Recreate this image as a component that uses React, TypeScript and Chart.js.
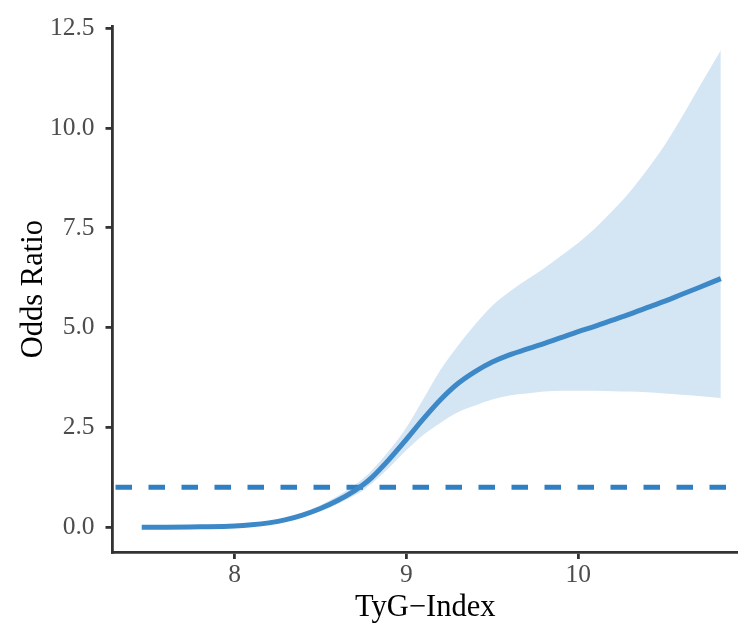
import React, { useEffect, useRef } from "react";
import { Chart, registerables } from "chart.js";

Chart.register(...registerables);

// TyG-Index values
const tyg = [7.46, 7.6, 7.8, 8.0, 8.1, 8.2, 8.3, 8.4, 8.5, 8.6, 8.7, 8.75, 8.8, 8.9, 9.0, 9.1, 9.2, 9.3, 9.4, 9.5, 9.6, 9.7, 9.8, 9.9, 10.0, 10.1, 10.2, 10.3, 10.4, 10.5, 10.6, 10.7, 10.83];
// Odds ratio estimate
const oddsRatio = [0.0, 0.0, 0.01, 0.03, 0.06, 0.11, 0.19, 0.31, 0.47, 0.67, 0.92, 1.07, 1.25, 1.7, 2.2, 2.72, 3.2, 3.6, 3.9, 4.14, 4.32, 4.46, 4.6, 4.75, 4.9, 5.04, 5.19, 5.34, 5.5, 5.66, 5.83, 6.0, 6.23];
// 95% CI upper
const upperCI = [0.0, 0.0, 0.01, 0.04, 0.07, 0.13, 0.23, 0.37, 0.55, 0.78, 1.06, 1.23, 1.43, 1.92, 2.5, 3.22, 3.95, 4.55, 5.08, 5.55, 5.9, 6.2, 6.48, 6.8, 7.12, 7.5, 7.93, 8.4, 8.95, 9.55, 10.25, 11.0, 11.95];
// 95% CI lower
const lowerCI = [0.0, 0.0, 0.01, 0.02, 0.05, 0.09, 0.16, 0.26, 0.4, 0.58, 0.8, 0.93, 1.1, 1.5, 1.93, 2.32, 2.62, 2.88, 3.05, 3.2, 3.3, 3.35, 3.4, 3.42, 3.42, 3.42, 3.41, 3.4, 3.38, 3.35, 3.32, 3.29, 3.24];

const refLineY = 1;
const xTicks = [8, 9, 10];
const yTicks = [0, 2.5, 5, 7.5, 10, 12.5];
const xMin = 7.29;
const xMax = 10.93;
const yMin = -0.62;
const yMax = 12.55;

export default function App() {
  const canvasRef = useRef<HTMLCanvasElement | null>(null);

  useEffect(() => {
    if (!canvasRef.current) return;
    const pts = (ys: number[]) => tyg.map((x, i) => ({ x, y: ys[i] }));
    const tickFont = { family: "'Liberation Serif', 'DejaVu Serif', serif", size: 25.5 };
    const titleFont = { family: "'Liberation Serif', 'DejaVu Serif', serif", size: 30.5 };
    const axisColor = "#333333";

    const chart = new Chart(canvasRef.current, {
      type: "line",
      data: {
        datasets: [
          {
            label: "OR",
            data: pts(oddsRatio),
            borderColor: "#3D89C8",
            borderWidth: 5,
            pointRadius: 0,
            cubicInterpolationMode: "monotone",
            fill: false,
          },
          {
            label: "ref",
            data: [
              { x: xMin, y: refLineY },
              { x: xMax, y: refLineY },
            ],
            borderColor: "#2F7FC2",
            borderWidth: 5,
            borderDash: [16.5, 16.5],
            borderDashOffset: -3,
            pointRadius: 0,
            fill: false,
          },
          {
            label: "upper",
            data: pts(upperCI),
            borderWidth: 0,
            borderColor: "rgba(0,0,0,0)",
            backgroundColor: "#D4E5F4",
            pointRadius: 0,
            cubicInterpolationMode: "monotone",
            fill: "+1",
          },
          {
            label: "lower",
            data: pts(lowerCI),
            borderWidth: 0,
            borderColor: "rgba(0,0,0,0)",
            pointRadius: 0,
            cubicInterpolationMode: "monotone",
            fill: false,
          },
        ],
      },
      options: {
        animation: false,
        responsive: true,
        maintainAspectRatio: false,
        layout: { padding: { top: 20, right: 0, left: 0, bottom: 0 } },
        plugins: {
          legend: { display: false },
          tooltip: { enabled: false },
        },
        scales: {
          x: {
            type: "linear",
            min: xMin,
            max: xMax,
            afterBuildTicks: (scale: any) => {
              scale.ticks = xTicks.map((v) => ({ value: v }));
            },
            afterFit: (scale: any) => {
              scale.height = 74;
            },
            ticks: {
              font: tickFont,
              color: "#4D4D4D",
              padding: 1,
              callback: (v: any) => String(v),
            },
            grid: {
              drawOnChartArea: false,
              drawTicks: true,
              tickLength: 7,
              color: axisColor,
              lineWidth: 2.8,
            },
            border: { display: true, color: axisColor, width: 2.8 },
            title: {
              display: true,
              text: "TyG\u2212Index",
              font: titleFont,
              color: "#000000",
              padding: { top: 0, bottom: 0 },
            },
          },
          y: {
            type: "linear",
            min: yMin,
            max: yMax,
            afterBuildTicks: (scale: any) => {
              scale.ticks = yTicks.map((v) => ({ value: v }));
            },
            afterFit: (scale: any) => {
              scale.width = 112.5;
            },
            ticks: {
              font: tickFont,
              color: "#4D4D4D",
              padding: 11,
              callback: (v: any) => Number(v).toFixed(1),
            },
            grid: {
              drawOnChartArea: false,
              drawTicks: true,
              tickLength: 7,
              color: axisColor,
              lineWidth: 2.8,
            },
            border: { display: true, color: axisColor, width: 2.8 },
            title: {
              display: true,
              text: "Odds Ratio",
              font: titleFont,
              color: "#000000",
              padding: { top: 16, bottom: 0 },
            },
          },
        },
      },
    } as any);

    return () => chart.destroy();
  }, []);

  return (
    <div style={{ position: "absolute", left: 0, top: 0, width: 738, height: 626, background: "#fff" }}>
      <canvas ref={canvasRef} />
    </div>
  );
}
